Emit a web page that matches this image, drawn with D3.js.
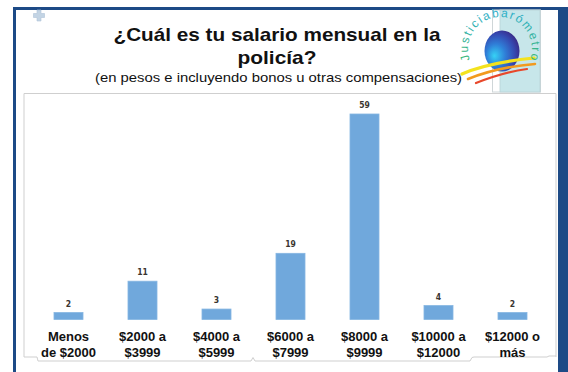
<!DOCTYPE html>
<html>
<head>
<meta charset="utf-8">
<script src="https://cdn.jsdelivr.net/npm/d3@7"></script>
<style>
  html, body { margin: 0; padding: 0; background: #ffffff; }
  svg { display: block; }
</style>
</head>
<body>
<div id="chart"></div>
<script>
// Salary brackets (two-line labels) and number of responses per bracket
const categories = [
  "Menos\nde $2000",
  "$2000 a\n$3999",
  "$4000 a\n$5999",
  "$6000 a\n$7999",
  "$8000 a\n$9999",
  "$10000 a\n$12000",
  "$12000 o\nmás"
];
const values = [2, 11, 3, 19, 59, 4, 2];

const titleLines = ["¿Cuál es tu salario mensual en la", "policía?"];
const subtitle = "(en pesos e incluyendo bonos u otras compensaciones)";
const logoText = "Justiciabarómetro";

const W = 568, H = 372;
const svg = d3.select("#chart").append("svg")
  .attr("width", W).attr("height", H)
  .style("font-family", "Arial, 'Liberation Sans', sans-serif");

const defs = svg.append("defs");

// ---- slide frame ----
svg.append("rect").attr("x", 13).attr("y", 7).attr("width", W - 13).attr("height", 3).attr("fill", "#1d4a86");
svg.append("rect").attr("x", 13).attr("y", 7).attr("width", 3).attr("height", H - 7).attr("fill", "#1d4a86");
svg.append("rect").attr("x", 558).attr("y", 7).attr("width", 10).attr("height", H - 7).attr("fill", "#1d4a86");

// small plus marker in the corner
svg.append("path")
  .attr("d", "M37,10 h4 v3.5 h3.5 v4 h-3.5 v3.5 h-4 v-3.5 h-3.5 v-4 h3.5 z")
  .attr("fill", "#c3d4e4").attr("stroke", "#aec3d8").attr("stroke-width", 0.6);

// ---- plot box ----
const box = svg.append("g").attr("fill", "none").attr("stroke", "#cfcfcf").attr("stroke-width", 1);
box.append("path").attr("d", "M24,357 V93.5 H556 V357");
box.append("path").attr("d", "M24,357 H37 L38,361 H251 L253,357.5 L255,361 H470 L472,357.5 L474,357 H547 L549,356 H556");

// ---- logo ----
const logo = svg.append("g");
logo.append("rect").attr("x", 492.5).attr("y", 10).attr("width", 48).attr("height", 82)
  .attr("fill", "#ffffff").attr("stroke", "#cfd6d8").attr("stroke-width", 1);
logo.append("rect").attr("x", 500).attr("y", 10).attr("width", 40).attr("height", 82)
  .attr("fill", "#c7e6ea").attr("stroke", "#b9d2d6").attr("stroke-width", 0.8);

const sg = defs.append("radialGradient").attr("id", "sphere")
  .attr("cx", "38%").attr("cy", "58%").attr("r", "68%").attr("fx", "28%").attr("fy", "62%");
sg.append("stop").attr("offset", "0%").attr("stop-color", "#36d2f5");
sg.append("stop").attr("offset", "40%").attr("stop-color", "#2f7fd8");
sg.append("stop").attr("offset", "75%").attr("stop-color", "#3548b0");
sg.append("stop").attr("offset", "100%").attr("stop-color", "#3a2580");
logo.append("ellipse").attr("cx", 502).attr("cy", 51).attr("rx", 17.5).attr("ry", 20.5)
  .attr("fill", "url(#sphere)");

const swooshes = [
  { d: "M462,74 C480,66 505,61 534,58", c: "#f3e21e", w: 3.2 },
  { d: "M468,79 C488,71 510,66 535,64", c: "#f29a1f", w: 2.6 },
  { d: "M476,83 C494,76 512,71 527,69", c: "#e8482b", w: 2.2 }
];
logo.selectAll("path.sw").data(swooshes).join("path").attr("class", "sw")
  .attr("d", d => d.d).attr("fill", "none")
  .attr("stroke", d => d.c).attr("stroke-width", d => d.w).attr("stroke-linecap", "round");

const lg = defs.append("linearGradient").attr("id", "logoText")
  .attr("gradientUnits", "userSpaceOnUse").attr("x1", 0).attr("y1", 12).attr("x2", 0).attr("y2", 75);
lg.append("stop").attr("offset", "0%").attr("stop-color", "#2daec8");
lg.append("stop").attr("offset", "100%").attr("stop-color", "#3fba5e");

const cx = 500, cy = 49, r = 32;
const a0 = 160 * Math.PI / 180, a1 = 28 * Math.PI / 180;
defs.append("path").attr("id", "arc")
  .attr("d", `M${cx + r * Math.cos(a0)},${cy + r * Math.sin(a0)} A${r},${r} 0 1 1 ${cx + r * Math.cos(a1)},${cy + r * Math.sin(a1)}`);
logo.append("text")
  .attr("font-size", 12).attr("fill", "url(#logoText)")
  .append("textPath").attr("href", "#arc")
  .attr("textLength", 122).attr("lengthAdjust", "spacing")
  .text(logoText);

// ---- titles ----
const titleCx = 277;
svg.append("text").attr("x", titleCx).attr("y", 41).attr("text-anchor", "middle")
  .attr("font-size", 19).attr("font-weight", "bold").attr("fill", "#111")
  .attr("textLength", 327).attr("lengthAdjust", "spacingAndGlyphs")
  .text(titleLines[0]);
svg.append("text").attr("x", titleCx).attr("y", 64).attr("text-anchor", "middle")
  .attr("font-size", 19).attr("font-weight", "bold").attr("fill", "#111")
  .attr("textLength", 79).attr("lengthAdjust", "spacingAndGlyphs")
  .text(titleLines[1]);
svg.append("text").attr("x", 278.5).attr("y", 81.5).attr("text-anchor", "middle")
  .attr("font-size", 13).attr("fill", "#111")
  .attr("textLength", 367).attr("lengthAdjust", "spacingAndGlyphs")
  .text(subtitle);

// ---- bars ----
const x = d3.scaleBand().domain(categories).range([31.5, 549.5])
  .paddingInner(0.608).paddingOuter(0.304);
const y = d3.scaleLinear().domain([0, 59]).range([319.5, 114]);

const plot = svg.append("g");
plot.selectAll("rect.bar").data(values).join("rect").attr("class", "bar")
  .attr("x", (d, i) => x(categories[i]))
  .attr("y", d => y(d))
  .attr("width", x.bandwidth())
  .attr("height", d => y(0) - y(d))
  .attr("fill", "#70a8dc")
  .attr("stroke", "#86b6e2").attr("stroke-width", 0.8);

plot.selectAll("text.val").data(values).join("text").attr("class", "val")
  .attr("x", (d, i) => x(categories[i]) + x.bandwidth() / 2)
  .attr("y", d => y(d) - 6)
  .attr("text-anchor", "middle")
  .attr("font-family", "'Liberation Sans Narrow', 'DejaVu Sans Condensed', Arial, sans-serif")
  .attr("font-size", 8.5).attr("font-weight", "bold").attr("fill", "#3a3530")
  .text(d => d);

// category axis labels (no axis line or ticks drawn)
const axis = d3.axisBottom(x).tickSize(0).tickFormat("");
const axisG = svg.append("g").attr("transform", `translate(0,${y(0)})`).call(axis);
axisG.select(".domain").remove();
axisG.selectAll(".tick").each(function (d) {
  const lines = d.split("\n");
  const t = d3.select(this).append("text")
    .attr("text-anchor", "middle")
    .attr("font-family", "Arial, 'Liberation Sans', sans-serif")
    .attr("font-size", 13).attr("font-weight", "bold").attr("fill", "#111");
  lines.forEach((ln, i) => {
    t.append("tspan").attr("x", 0).attr("y", 21 + i * 16).text(ln);
  });
});
</script>
</body>
</html>
